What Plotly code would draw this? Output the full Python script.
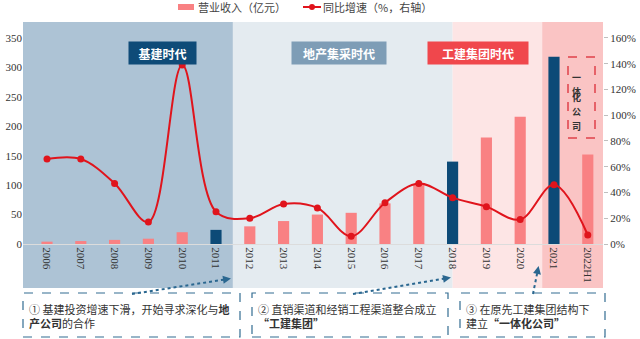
import plotly.graph_objects as go

# ---- data ----
years = ["2006", "2007", "2008", "2009", "2010", "2011", "2012", "2013", "2014",
         "2015", "2016", "2017", "2018", "2019", "2020", "2021", "2022H1"]
revenue = [4, 5, 7, 9, 20, 24, 30, 39, 50, 53, 69, 102, 140, 181, 216, 318, 152]   # 亿元
growth = [66, 66, 47, 17, 139, 25, 20, 31, 28, 6, 32, 47, 36, 29, 19, 46, 7]       # %
highlight_years = ["2011", "2018", "2021"]
left_ticks = [0, 50, 100, 150, 200, 250, 300, 350]
right_ticks = [0, 20, 40, 60, 80, 100, 120, 140, 160]

PINK = "#f98183"
NAVY = "#0c4a77"
RED = "#e0141c"
CJK = "Noto Sans CJK SC"
SERIF = "Liberation Serif"

idx = list(range(len(years)))
bar_colors = [NAVY if y in highlight_years else PINK for y in years]

W, H = 640, 339
L, R, T, B = 23, 37, 22, 95
plot_w, plot_h = W - L - R, H - T - B


def px(x):
    return (x - L) / plot_w


def py(y):
    return (H - B - y) / plot_h


fig = go.Figure()
fig.add_trace(go.Bar(
    x=idx, y=revenue, name="营业收入（亿元）", marker=dict(color=bar_colors, line_width=0),
    width=0.33, yaxis="y", showlegend=False,
))
fig.add_trace(go.Scatter(
    x=idx, y=growth, name="同比增速（%，右轴）", mode="lines+markers",
    line=dict(color=RED, width=2, shape="spline", smoothing=1.0),
    marker=dict(color=RED, size=7), yaxis="y2", showlegend=False,
))

# era background bands
bottom = py(288)
bands = [(-0.71, 5.5, "#adc3d5"), (5.5, 12, "#e4ebf0"),
         (12, 14.65, "#fde5e5"), (14.65, 16.45, "#fac4c4")]
shapes = []
for x0, x1, c in bands:
    shapes.append(dict(type="rect", xref="x", yref="paper", x0=x0, x1=x1, y0=bottom, y1=1,
                       fillcolor=c, line_width=0, layer="below"))

# key at the top
shapes.append(dict(type="rect", xref="paper", yref="paper", x0=px(178), x1=px(194),
                   y0=py(10), y1=py(4), fillcolor=PINK, line_width=0))
shapes.append(dict(type="line", xref="paper", yref="paper", x0=px(303), x1=px(321),
                   y0=py(7), y1=py(7), line=dict(color=RED, width=2)))
shapes.append(dict(type="circle", xref="paper", yref="paper", x0=px(309), x1=px(315),
                   y0=py(10), y1=py(4), fillcolor=RED, line_width=0))
annotations = [
    dict(xref="paper", yref="paper", x=px(196), y=py(7), text="营业收入（亿元）",
         xanchor="left", yanchor="middle", showarrow=False,
         font=dict(family=CJK, size=11, color="#444444")),
    dict(xref="paper", yref="paper", x=px(321), y=py(7), text="同比增速（%，右轴）",
         xanchor="left", yanchor="middle", showarrow=False,
         font=dict(family=CJK, size=11, color="#444444")),
]

# dashed frame around 一体化公司
shapes.append(dict(type="rect", xref="paper", yref="paper", x0=px(568), x1=px(595),
                   y0=py(138), y1=py(57), line=dict(color="#e0404a", width=1.5, dash="dash")))

# note boxes below the chart
note_boxes = [(23, 240), (252, 448), (460, 605)]
for x0, x1 in note_boxes:
    shapes.append(dict(type="rect", xref="paper", yref="paper", x0=px(x0), x1=px(x1),
                       y0=py(337), y1=py(293), line=dict(color="#336d92", width=1.2, dash="dash")))

# dotted connectors from notes to their year
ARROW = "#2a6790"
connectors = [((132, 294), (228, 279)), ((353, 294), (448, 278)), ((533, 294), (538, 269))]
for (xa, ya), (xb, yb) in connectors:
    shapes.append(dict(type="line", xref="paper", yref="paper", x0=px(xa), y0=py(ya),
                       x1=px(xb), y1=py(yb), line=dict(color=ARROW, width=2, dash="dot")))
    dx, dy = xb - xa, yb - ya
    n = (dx * dx + dy * dy) ** 0.5
    annotations.append(dict(xref="paper", yref="paper", x=px(xb + 3 * dx / n), y=py(yb + 3 * dy / n),
                            ax=-6 * dx / n, ay=-6 * dy / n, text="", showarrow=True,
                            arrowhead=2, arrowsize=1, arrowwidth=1.6, arrowcolor=ARROW))

# era titles
eras = [("基建时代", 127.5, 65, "#0e4b78"), ("地产集采时代", 339, 92, "#7e9db6"),
        ("工建集团时代", 529, 98, "#f0474c")]
for text, cx, w, c in eras:
    annotations.append(dict(xref="paper", yref="paper", x=px(cx), y=py(41), text=f"<b>{text}</b>",
                            showarrow=False, width=w, height=20, bgcolor=c,
                            font=dict(family=CJK, size=12, color="white")))

# vertical label, one character per line
for k, ch in enumerate("一体化公司"):
    annotations.append(dict(xref="paper", yref="paper", x=px(581.5), y=py(70 + 14 * k),
                            text=f"<b>{ch}</b>", showarrow=False, borderpad=0,
                            font=dict(family=CJK, size=9, color="#333333")))

notes = [
    (27, "① 基建投资增速下滑，开始寻求深化与<b>地</b><br><b>产公司</b>的合作"),
    (256, "② 直销渠道和经销工程渠道整合成立<br><b>“工建集团”</b>"),
    (464, "③ 在原先工建集团结构下<br>建立<b>“一体化公司”</b>"),
]
for x0, text in notes:
    annotations.append(dict(xref="paper", yref="paper", x=px(x0), y=py(316), text=text,
                            xanchor="left", yanchor="middle", align="left", showarrow=False,
                            font=dict(family=CJK, size=11, color="#333333")))

fig.update_layout(
    width=W, height=H, margin=dict(l=L, r=R, t=T, b=B, autoexpand=False),
    plot_bgcolor="rgba(0,0,0,0)", paper_bgcolor="white",
    showlegend=False,
    xaxis=dict(range=[-0.71, 16.45], tickmode="array", tickvals=idx, ticktext=years,
               tickangle=90, tickfont=dict(family=SERIF, size=11, color="#333333"),
               showgrid=False, zeroline=False, showline=True, linecolor="#dcdcdc", linewidth=1,
               ticks="", automargin=False),
    yaxis=dict(range=[0, 377.2], tickmode="array", tickvals=left_ticks,
               ticktext=[str(v) for v in left_ticks], automargin=False,
               tickfont=dict(family=SERIF, size=11, color="#333333"), showgrid=False,
               zeroline=False, showline=False, ticks=""),
    yaxis2=dict(range=[0, 172.4], overlaying="y", side="right", tickmode="array",
                tickvals=right_ticks, ticktext=[f"{v}%" for v in right_ticks], automargin=False,
                tickfont=dict(family=SERIF, size=11, color="#333333"), showgrid=False,
                zeroline=False, showline=False, ticks="outside", ticklen=4, tickcolor="#bfbfbf"),
    shapes=shapes, annotations=annotations, bargap=0.6,
)

fig.write_html("out.html")
